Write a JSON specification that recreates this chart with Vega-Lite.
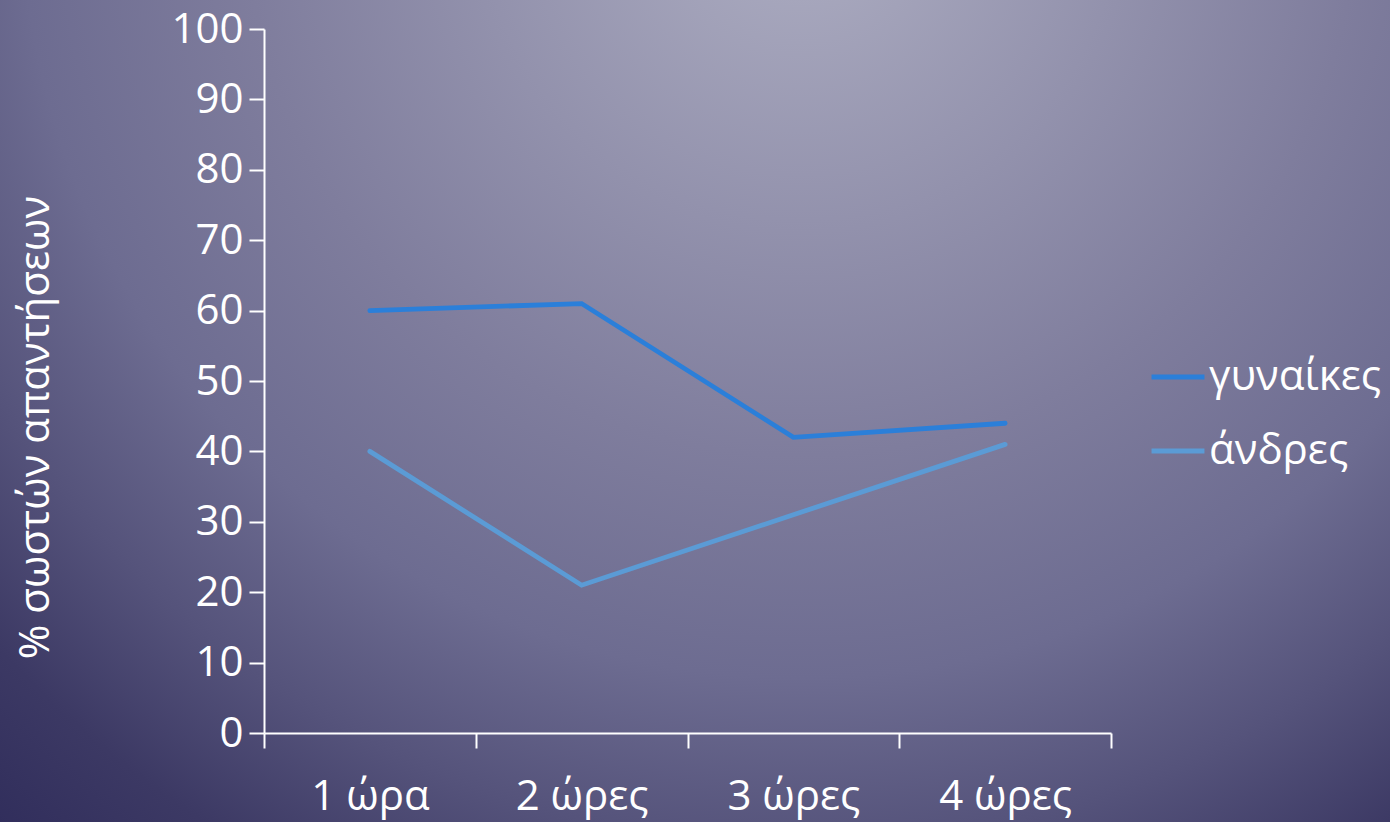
{
  "$schema": "https://vega.github.io/schema/vega-lite/v6.json",
  "autosize": {"type": "none"},
  "width": 1390,
  "height": 822,
  "padding": 0,
  "background": "#55537b",
  "config": {
    "font": "Open Sans",
    "view": {
      "stroke": null,
      "fill": {
        "gradient": "radial",
        "x1": 0.576, "y1": 0.132, "r1": 0,
        "x2": 0.576, "y2": 0.132, "r2": 1,
        "stops": [
          {"offset": 0, "color": "#a8a8be"},
          {"offset": 0.07, "color": "#a6a6bc"},
          {"offset": 0.4, "color": "#7f7d9d"},
          {"offset": 0.56, "color": "#6d6c91"},
          {"offset": 0.68, "color": "#55537b"},
          {"offset": 0.79, "color": "#3c3964"},
          {"offset": 0.88, "color": "#312e5c"},
          {"offset": 1, "color": "#2c2957"}
        ]
      }
    },
    "axis": {
      "domain": true,
      "domainColor": "#ffffff",
      "domainWidth": 2,
      "tickColor": "#ffffff",
      "tickWidth": 2,
      "tickSize": 15,
      "labelColor": "#ffffff",
      "labelFont": "Open Sans",
      "labelFontSize": 42,
      "grid": false,
      "titleColor": "#ffffff",
      "titleFont": "Open Sans",
      "titleFontWeight": "normal"
    }
  },
  "data": {
    "values": [
      {"time": "1 ώρα", "group": "γυναίκες", "pct": 60},
      {"time": "2 ώρες", "group": "γυναίκες", "pct": 61},
      {"time": "3 ώρες", "group": "γυναίκες", "pct": 42},
      {"time": "4 ώρες", "group": "γυναίκες", "pct": 44},
      {"time": "1 ώρα", "group": "άνδρες", "pct": 40},
      {"time": "2 ώρες", "group": "άνδρες", "pct": 21},
      {"time": "3 ώρες", "group": "άνδρες", "pct": 31},
      {"time": "4 ώρες", "group": "άνδρες", "pct": 41}
    ]
  },
  "mark": {"type": "line", "strokeWidth": 4.8, "strokeCap": "round"},
  "encoding": {
    "x": {
      "field": "time",
      "type": "nominal",
      "bandPosition": 0.5,
      "scale": {
        "type": "band",
        "domain": ["1 ώρα", "2 ώρες", "3 ώρες", "4 ώρες"],
        "range": [264, 1111],
        "paddingInner": 0,
        "paddingOuter": 0
      },
      "axis": {
        "title": null,
        "labelAngle": 0,
        "tickBand": "extent",
        "offset": -89,
        "labelPadding": 28,
        "labelBaseline": "top"
      }
    },
    "y": {
      "field": "pct",
      "type": "quantitative",
      "scale": {"domain": [0, 100], "range": [733, 29], "nice": false, "zero": false},
      "axis": {
        "values": [0, 10, 20, 30, 40, 50, 60, 70, 80, 90, 100],
        "offset": -264,
        "title": "% σωστών απαντήσεων",
        "titleFontSize": 42,
        "titleAngle": -90,
        "titleX": -229,
        "titleY": 427,
        "titleAlign": "center",
        "titleBaseline": "middle",
        "labelPadding": 6
      }
    },
    "color": {
      "field": "group",
      "type": "nominal",
      "scale": {"domain": ["γυναίκες", "άνδρες"], "range": ["#2b7fd9", "#5b9bd5"]},
      "legend": {
        "title": null,
        "orient": "none",
        "legendX": 1149,
        "legendY": 348,
        "symbolType": "stroke",
        "symbolStrokeWidth": 5,
        "symbolSize": 2800,
        "labelFontSize": 42,
        "labelColor": "#ffffff",
        "labelFont": "Open Sans",
        "labelOffset": 2,
        "rowPadding": 24,
        "labelLimit": 400
      }
    }
  }
}
